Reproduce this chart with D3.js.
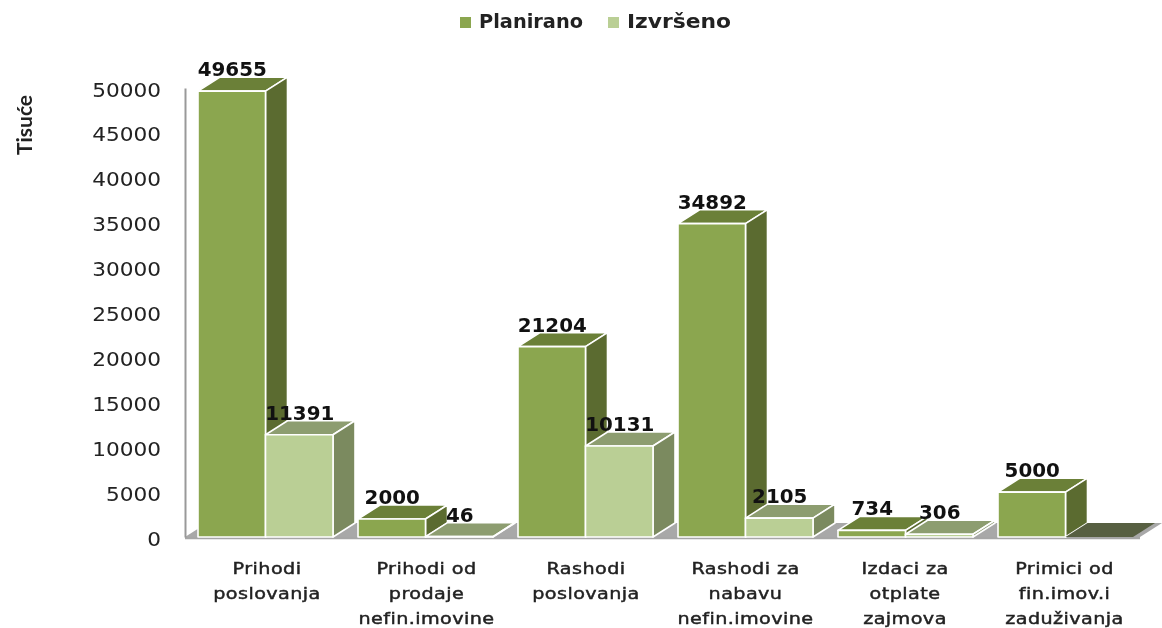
<!DOCTYPE html>
<html><head><meta charset="utf-8">
<script src="https://cdn.jsdelivr.net/npm/d3@7/dist/d3.min.js"></script>
<style>html,body{margin:0;padding:0;background:#fff}svg{display:block;filter:blur(0.5px)}</style>
</head><body><svg id="c" width="1162" height="628"></svg>
<script>
const categories = [["Prihodi","poslovanja"],["Prihodi od","prodaje","nefin.imovine"],["Rashodi","poslovanja"],["Rashodi za","nabavu","nefin.imovine"],["Izdaci za","otplate","zajmova"],["Primici od","fin.imov.i","zaduživanja"]];
const planirano = [49655,2000,21204,34892,734,5000];
const izvrseno = [11391,46,10131,2105,306,0];
const seriesNames = ["Planirano","Izvršeno"];
const yTicks = [0,5000,10000,15000,20000,25000,30000,35000,40000,45000,50000];
const axisTitle = "Tisuće";

const svg = d3.select("#c");
const y = d3.scaleLinear().domain([0,50000]).range([537,88]);
const x0 = d3.scaleBand().domain(d3.range(categories.length)).range([158,1118]).paddingInner(0).paddingOuter(0);
const xLab = d3.scalePoint().domain(d3.range(categories.length)).range([267,1064.5]);
const x1 = d3.scaleBand().domain([0,1]).range([40,175]);
const dx = 22, dy = -14;
const pal = [
 {front:"#8ba64f",top:"#6b8038",side:"#5b6b30"},
 {front:"#bacf95",top:"#8d9d70",side:"#7b8a5f"}
];
const font = "'DejaVu Sans',Verdana,sans-serif";

// floor
const floorL = 185, floorR = 1140, base = y(0);
svg.append("path").attr("d",`M${floorL},${base}L${floorR},${base}L${floorR+dx},${base+dy}L${floorL+dx},${base+dy}Z`).attr("fill","#a8a8a8");
svg.append("line").attr("x1",floorL).attr("x2",floorR).attr("y1",base+1).attr("y2",base+1).attr("stroke","#a6a6a6").attr("stroke-width",2.5);

// axis
const ax = svg.append("g").attr("transform",`translate(185,0)`)
 .call(d3.axisLeft(y).tickValues(yTicks).tickSize(0).tickFormat(d3.format("d")));
ax.select(".domain").attr("stroke","#999").attr("stroke-width",2);
ax.selectAll("text").attr("x",0).attr("dy","0.36em").attr("font-family",font).attr("font-size",19.5).attr("fill","#222")
  .attr("text-anchor","end").attr("transform","translate(-24,1) scale(1.11,1)");
ax.attr("font-size",null).attr("font-family",null);

// bars
const data = [];
categories.forEach((c,i)=>{[planirano,izvrseno].forEach((s,k)=>data.push({i,k,v:s[i]}));});
const bar = svg.append("g").selectAll("g").data(data).join("g").attr("stroke","#fff").attr("stroke-width",1.6).attr("stroke-linejoin","round");
const X = d=>x0(d.i)+x1(d.k), W = x1.bandwidth();
bar.append("path").attr("fill",d=>d.v===0?"#575f41":pal[d.k].top).attr("d",d=>{const a=X(d),t=y(d.v);
  return `M${a},${t}L${a+W},${t}L${a+W+dx},${t+dy}L${a+dx},${t+dy}Z`;}).attr("stroke",d=>d.v===0?"none":"#fff");
bar.append("path").attr("fill",d=>pal[d.k].side).attr("d",d=>{const a=X(d)+W,t=y(d.v);
  return `M${a},${t}L${a+dx},${t+dy}L${a+dx},${base+dy}L${a},${base}Z`;}).attr("stroke",d=>d.v===0?"none":"#fff");
bar.append("rect").attr("x",X).attr("width",W).attr("y",d=>y(d.v)).attr("height",d=>base-y(d.v)).attr("fill",d=>pal[d.k].front);

// value labels
svg.append("g").selectAll("text").data(data.filter(d=>d.v>0)).join("text")
 .attr("text-anchor","middle").attr("font-family",font).attr("font-weight","bold").attr("font-size",19.5).attr("fill","#111")
 .attr("transform",d=>`translate(${X(d)+W/2+0.5},${y(d.v)+dy-1}) scale(1.02,1)`).text(d=>d.v);

// category labels
const lab = svg.append("g").selectAll("text").data(categories).join("text")
 .attr("text-anchor","middle").attr("font-family",font).attr("font-size",16).attr("letter-spacing",0.35).attr("fill","#222").attr("stroke","#222").attr("stroke-width",0.45)
 .attr("transform",(d,i)=>`translate(${xLab(i)},574) scale(1.2,1)`);
lab.selectAll("tspan").data(d=>d).join("tspan").attr("x",0).attr("y",(d,j)=>j*25).text(d=>d);

// legend
const lg = svg.append("g").selectAll("g").data(seriesNames).join("g").attr("transform",(d,i)=>`translate(${460+i*148},0)`);
lg.append("rect").attr("y",17).attr("width",11).attr("height",11).attr("fill",(d,i)=>pal[i].front);
lg.append("text").attr("x",19).attr("y",28).attr("textLength",104).attr("lengthAdjust","spacingAndGlyphs").attr("font-family",font).attr("font-weight","bold").attr("font-size",19).attr("fill","#222").text(d=>d);

// axis title
svg.append("text").attr("transform","translate(32,125) rotate(-90)").attr("text-anchor","middle")
 .attr("font-family","Lato,sans-serif").attr("font-weight",700).attr("font-size",21).attr("fill","#222").text(axisTitle);
</script></body></html>
